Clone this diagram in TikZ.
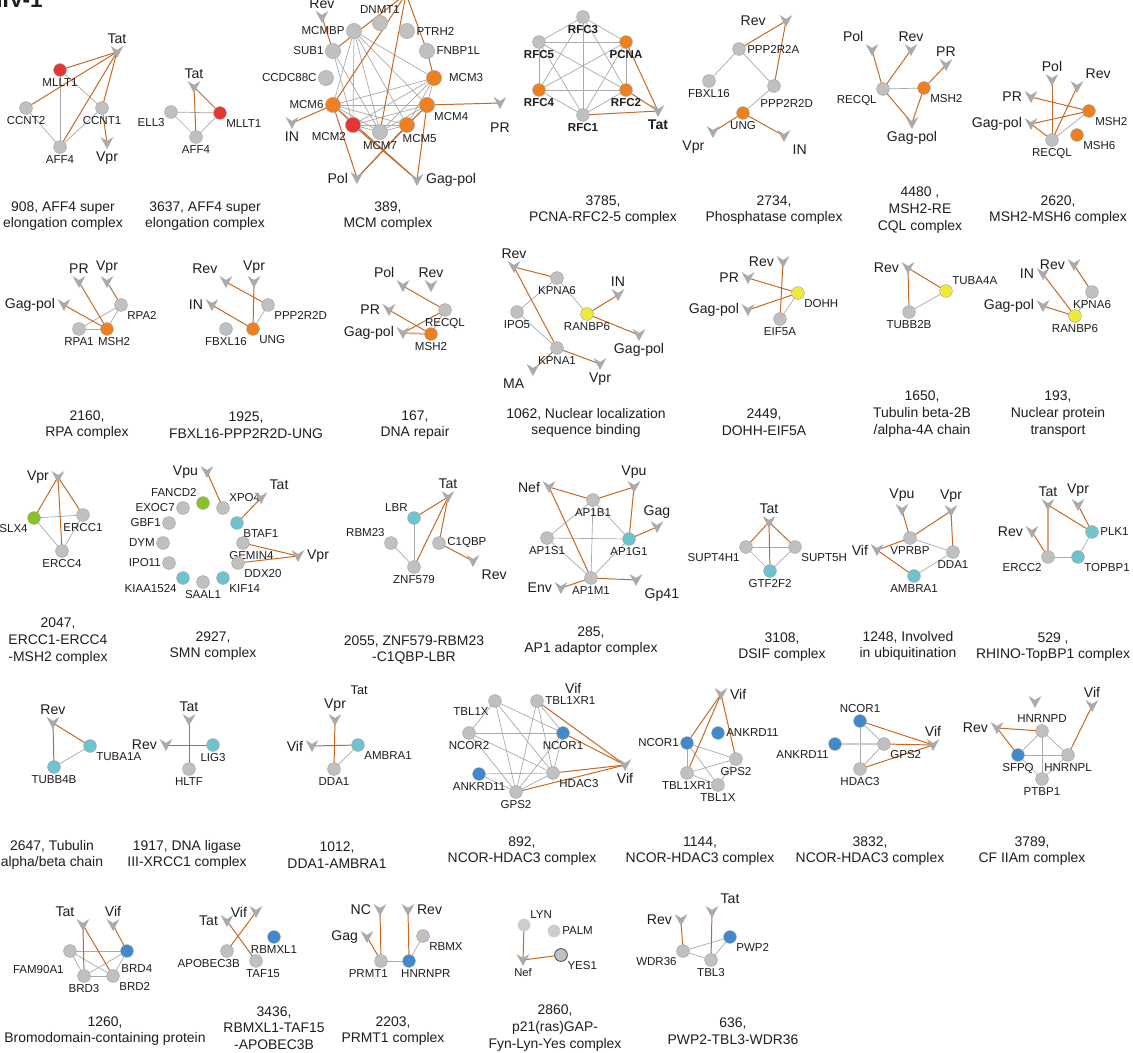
\documentclass[tikz,border=0pt]{standalone}
\usepackage{fontspec}
\setmainfont{Liberation Sans}
\usetikzlibrary{backgrounds}
\definecolor{protgray}{RGB}{192,192,192}
\definecolor{protline}{RGB}{165,165,165}
\definecolor{porange}{RGB}{238,128,32}
\definecolor{pred}{RGB}{228,54,50}
\definecolor{pyellow}{RGB}{238,234,58}
\definecolor{pgreen}{RGB}{140,192,40}
\definecolor{pcyan}{RGB}{110,196,206}
\definecolor{pblue}{RGB}{66,136,204}
\definecolor{virgray}{RGB}{170,170,170}
\definecolor{edgegray}{RGB}{170,170,170}
\definecolor{edgeorange}{RGB}{196,104,36}
\definecolor{txt}{RGB}{30,30,30}
\newcommand{\edg}[3][pp]{\draw[#1] (#2.center) -- (#3.center);}
\tikzset{
	prot/.style={circle,draw=protline,line width=0.3pt,fill=protgray,minimum size=0.32cm,inner sep=0pt},
	big/.style={minimum size=0.38cm},
	vir/.style={rectangle,minimum width=0.32cm,minimum height=0.3cm,inner sep=0pt,
		path picture={\fill[virgray] (path picture bounding box.north west) -- ([yshift=-2.8pt]path picture bounding box.north) -- (path picture bounding box.north east) -- (path picture bounding box.south) -- cycle;}},
	lab/.style={font=\fontsize{8.2}{9}\selectfont,text=txt,inner sep=1pt},
	blab/.style={font=\fontsize{8.2}{9}\selectfont\bfseries,text=txt,inner sep=1pt},
	vlab/.style={font=\fontsize{10}{11}\selectfont,text=txt,inner sep=1.5pt},
	bvlab/.style={font=\fontsize{10}{11}\selectfont\bfseries,text=txt,inner sep=1.5pt},
	captxt/.style={font=\fontsize{9.9}{11.8}\selectfont,text=txt,align=center,inner sep=0pt},
	pp/.style={draw=edgegray,line width=0.5pt},
	hv/.style={draw=edgeorange,line width=0.7pt}
}

\begin{document}
\begin{tikzpicture}[x=0.025cm,y=-0.025cm]
	\useasboundingbox (0,0) rectangle (1133,1053);
	\begin{scope}[on background layer]
		\fill[white] (0,0) rectangle (1133,1053);
	\end{scope}
	\node[font=\fontsize{16}{16}\selectfont\bfseries,anchor=base west,inner sep=0pt,text=txt] (hiv) at (-14,7) {HIV-1};

	\node[vir,label={[vlab]above:Tat}] (908-tat) at (117,52) {};
	\node[prot,fill=pred,label={[lab]below:MLLT1}] (908-mllt1) at (60,70) {};
	\node[prot,label={[lab]below:CCNT2}] (908-ccnt2) at (26,108) {};
	\node[prot,label={[lab]below:CCNT1}] (908-ccnt1) at (102,108) {};
	\node[prot,label={[lab]below:AFF4}] (908-aff4) at (60,147) {};
	\node[vir,label={[vlab]below:Vpr}] (908-vpr) at (107,143) {};
	\node[captxt] (908-cap) at (63,216) {908, AFF4 super\\elongation complex};
	\begin{scope}[on background layer]
		\edg{908-mllt1}{908-aff4} \edg{908-mllt1}{908-ccnt1} \edg{908-ccnt2}{908-aff4} \edg{908-ccnt1}{908-aff4}
		\edg[hv]{908-tat}{908-mllt1} \edg[hv]{908-tat}{908-ccnt2} \edg[hv]{908-tat}{908-aff4}
		\edg[hv]{908-tat}{908-ccnt1} \edg[hv]{908-ccnt1}{908-vpr}
	\end{scope}

	\node[vir,label={[vlab]above:Tat}] (3637-tat) at (194,87) {};
	\node[prot,label={[lab]below left:ELL3}] (3637-ell3) at (171,112) {};
	\node[prot,fill=pred,label={[lab]below right:MLLT1}] (3637-mllt1) at (220,113) {};
	\node[prot,label={[lab]below:AFF4}] (3637-aff4) at (196,137) {};
	\node[captxt] (3637-cap) at (205,216) {3637, AFF4 super\\elongation complex};
	\begin{scope}[on background layer]
		\edg{3637-ell3}{3637-mllt1} \edg{3637-ell3}{3637-aff4} \edg{3637-aff4}{3637-mllt1}
		\edg[hv]{3637-tat}{3637-aff4} \edg[hv]{3637-tat}{3637-mllt1}
	\end{scope}

	\coordinate (389-top) at (406,-6);
	\node[vir,label={[vlab]above:Rev}] (389-rev) at (322,17) {};
	\node[prot,big,label={[lab]above:DNMT1}] (389-dnmt1) at (380,23) {};
	\node[prot,big,label={[lab]left:MCMBP}] (389-mcmbp) at (354,31) {};
	\node[prot,big,label={[lab]right:PTRH2}] (389-ptrh2) at (407,31) {};
	\node[prot,big,label={[lab]left:SUB1}] (389-sub1) at (333,51) {};
	\node[prot,big,label={[lab]right:FNBP1L}] (389-fnbp1l) at (427,51) {};
	\node[prot,big,label={[lab]left:CCDC88C}] (389-ccdc88c) at (326,78) {};
	\node[prot,big,fill=porange,label={[lab,label distance=4pt]right:MCM3}] (389-mcm3) at (434,78) {};
	\node[prot,big,fill=porange,label={[lab]left:MCM6}] (389-mcm6) at (333,105) {};
	\node[prot,big,fill=porange,label={[lab]below right:MCM4}] (389-mcm4) at (427,105) {};
	\node[vir,label={[vlab]below:IN}] (389-in) at (292,123) {};
	\node[prot,big,fill=pred,label={[lab]below left:MCM2}] (389-mcm2) at (353,125) {};
	\node[prot,big,label={[lab]below:MCM7}] (389-mcm7) at (380,132) {};
	\node[prot,big,fill=porange,label={[lab,xshift=9pt]below:MCM5}] (389-mcm5) at (407,125) {};
	\node[vir,label={[vlab,label distance=8pt]below:PR}] (389-pr) at (500,103) {};
	\node[vir,label={[vlab]left:Pol}] (389-pol) at (357,178) {};
	\node[vir,label={[vlab]right:Gag-pol}] (389-gagpol) at (417,180) {};
	\node[captxt] (389-cap) at (388,216) {389,\\MCM complex};
	\begin{scope}[on background layer]
		\edg{389-mcmbp}{389-mcm3} \edg{389-mcmbp}{389-mcm4} \edg{389-mcmbp}{389-mcm5}
		\edg{389-mcmbp}{389-mcm7} \edg{389-mcmbp}{389-mcm2} \edg{389-mcmbp}{389-mcm6}
		\edg{389-sub1}{389-mcm2} \edg{389-sub1}{389-mcm7}
		\edg{389-mcm6}{389-mcm4} \edg{389-mcm6}{389-mcm3} \edg{389-mcm6}{389-mcm5}
		\edg{389-mcm6}{389-mcm7} \edg{389-mcm6}{389-mcm2}
		\edg{389-mcm3}{389-mcm2} \edg{389-mcm3}{389-mcm7} \edg{389-mcm3}{389-mcm5} \edg{389-mcm3}{389-mcm4}
		\edg{389-mcm4}{389-mcm2} \edg{389-mcm4}{389-mcm7} \edg{389-mcm4}{389-mcm5}
		\edg{389-mcm2}{389-mcm7} \edg{389-mcm2}{389-mcm5} \edg{389-mcm7}{389-mcm5}
		\edg[hv]{389-rev}{389-sub1} \edg[hv]{389-sub1}{389-top} \edg[hv]{389-mcm6}{389-top}
		\edg[hv]{389-mcm7}{389-top} \edg[hv]{389-fnbp1l}{389-top} \edg[hv]{389-fnbp1l}{389-mcm3}
		\edg[hv]{389-mcm6}{389-in} \edg[hv]{389-mcm4}{389-pr}
		\edg[hv]{389-mcm6}{389-pol} \edg[hv]{389-mcm5}{389-pol} \edg[hv]{389-mcm4}{389-pol}
		\edg[hv]{389-mcm6}{389-gagpol} \edg[hv]{389-mcm2}{389-gagpol} \edg[hv]{389-mcm4}{389-gagpol}
	\end{scope}

	\node[prot,label={[blab]below:RFC3}] (3785-rfc3) at (583,17) {};
	\node[prot,label={[blab]below:RFC5}] (3785-rfc5) at (539,42) {};
	\node[prot,fill=porange,label={[blab]below:PCNA}] (3785-pcna) at (626,42) {};
	\node[prot,fill=porange,label={[blab]below:RFC4}] (3785-rfc4) at (539,90) {};
	\node[prot,fill=porange,label={[blab]below:RFC2}] (3785-rfc2) at (626,90) {};
	\node[prot,label={[blab]below:RFC1}] (3785-rfc1) at (583,115) {};
	\node[vir,label={[bvlab]below:Tat}] (3785-tat) at (658,111) {};
	\node[captxt] (3785-cap) at (603,210) {3785,\\PCNA-RFC2-5 complex};
	\begin{scope}[on background layer]
		\edg{3785-rfc3}{3785-rfc5} \edg{3785-rfc3}{3785-pcna} \edg{3785-rfc3}{3785-rfc4} \edg{3785-rfc3}{3785-rfc2} \edg{3785-rfc3}{3785-rfc1}
		\edg{3785-rfc5}{3785-pcna} \edg{3785-rfc5}{3785-rfc4} \edg{3785-rfc5}{3785-rfc2} \edg{3785-rfc5}{3785-rfc1}
		\edg{3785-pcna}{3785-rfc4} \edg{3785-pcna}{3785-rfc2} \edg{3785-pcna}{3785-rfc1}
		\edg{3785-rfc4}{3785-rfc2} \edg{3785-rfc4}{3785-rfc1} \edg{3785-rfc2}{3785-rfc1}
		\edg[hv]{3785-pcna}{3785-tat} \edg[hv]{3785-rfc2}{3785-tat} \edg[hv]{3785-rfc1}{3785-tat}
	\end{scope}

	\node[vir,label={[vlab,label distance=8pt]left:Rev}] (2734-rev) at (786,21) {};
	\node[prot,label={[lab]right:PPP2R2A}] (2734-ppp2r2a) at (739,49) {};
	\node[prot,label={[lab]below:FBXL16}] (2734-fbxl16) at (709,81) {};
	\node[prot,label={[lab,xshift=9pt,yshift=-4pt]below:PPP2R2D}] (2734-ppp2r2d) at (774,86) {};
	\node[prot,fill=porange,label={[lab]below:UNG}] (2734-ung) at (743,113) {};
	\node[vir,label={[vlab]below left:Vpr}] (2734-vpr) at (713,132) {};
	\node[vir,label={[vlab]below right:IN}] (2734-in) at (784,136) {};
	\node[captxt] (2734-cap) at (774,210) {2734,\\Phosphatase complex};
	\begin{scope}[on background layer]
		\edg{2734-ppp2r2a}{2734-fbxl16} \edg{2734-ppp2r2a}{2734-ppp2r2d} \edg{2734-ppp2r2d}{2734-ung}
		\edg[hv]{2734-rev}{2734-ppp2r2a} \edg[hv]{2734-rev}{2734-ppp2r2d}
		\edg[hv]{2734-ung}{2734-vpr} \edg[hv]{2734-ung}{2734-in}
	\end{scope}

	\node[vir,label={[vlab]above left:Pol}] (4480-pol) at (872,50) {};
	\node[vir,label={[vlab]above:Rev}] (4480-rev) at (911,50) {};
	\node[vir,label={[vlab]above:PR}] (4480-pr) at (946,65) {};
	\node[prot,label={[lab]below left:RECQL}] (4480-recql) at (883,89) {};
	\node[prot,fill=porange,label={[lab]below right:MSH2}] (4480-msh2) at (924,88) {};
	\node[vir,label={[vlab]below:Gag-pol}] (4480-gagpol) at (912,123) {};
	\node[captxt] (4480-cap) at (920,210) {4480 ,\\MSH2-RE\\CQL complex};
	\begin{scope}[on background layer]
		\edg{4480-recql}{4480-msh2}
		\edg[hv]{4480-pol}{4480-recql} \edg[hv]{4480-rev}{4480-recql} \edg[hv]{4480-pr}{4480-msh2}
		\edg[hv]{4480-recql}{4480-gagpol} \edg[hv]{4480-msh2}{4480-gagpol}
	\end{scope}

	\node[vir,label={[vlab]above:Pol}] (2620-pol) at (1052,80) {};
	\node[vir,label={[vlab]above right:Rev}] (2620-rev) at (1077,87) {};
	\node[vir,label={[vlab]left:PR}] (2620-pr) at (1031,97) {};
	\node[prot,fill=porange,label={[lab]below right:MSH2}] (2620-msh2) at (1089,111) {};
	\node[vir,label={[vlab]left:Gag-pol}] (2620-gagpol) at (1031,124) {};
	\node[prot,fill=porange,label={[lab]below right:MSH6}] (2620-msh6) at (1077,135) {};
	\node[prot,label={[lab]below:RECQL}] (2620-recql) at (1052,140) {};
	\node[captxt] (2620-cap) at (1058,210) {2620,\\MSH2-MSH6 complex};
	\begin{scope}[on background layer]
		\edg{2620-recql}{2620-msh2}
		\edg[hv]{2620-pol}{2620-recql} \edg[hv]{2620-rev}{2620-recql} \edg[hv]{2620-pr}{2620-msh2}
		\edg[hv]{2620-gagpol}{2620-msh2} \edg[hv]{2620-gagpol}{2620-recql}
	\end{scope}

	\node[vir,label={[vlab]above:PR}] (2160-pr) at (79,282) {};
	\node[vir,label={[vlab]above:Vpr}] (2160-vpr) at (107,282) {};
	\node[vir,label={[vlab]left:Gag-pol}] (2160-gagpol) at (64,305) {};
	\node[prot,label={[lab]below right:RPA2}] (2160-rpa2) at (121,305) {};
	\node[prot,label={[lab]below:RPA1}] (2160-rpa1) at (79,329) {};
	\node[prot,fill=porange,label={[lab,xshift=5pt]below:MSH2}] (2160-msh2) at (107,329) {};
	\node[captxt] (2160-cap) at (87,425) {2160,\\RPA complex};
	\begin{scope}[on background layer]
		\edg{2160-rpa2}{2160-rpa1} \edg{2160-rpa2}{2160-msh2} \edg{2160-rpa1}{2160-msh2}
		\edg[hv]{2160-pr}{2160-msh2} \edg[hv]{2160-vpr}{2160-rpa2} \edg[hv]{2160-gagpol}{2160-msh2}
	\end{scope}

	\node[vir,label={[vlab]above left:Rev}] (1925-rev) at (226,282) {};
	\node[vir,label={[vlab]above:Vpr}] (1925-vpr) at (254,282) {};
	\node[vir,label={[vlab]left:IN}] (1925-in) at (212,305) {};
	\node[prot,label={[lab]below right:PPP2R2D}] (1925-ppp2r2d) at (268,305) {};
	\node[prot,label={[lab]below:FBXL16}] (1925-fbxl16) at (226,329) {};
	\node[prot,fill=porange,label={[lab]below right:UNG}] (1925-ung) at (253,329) {};
	\node[captxt] (1925-cap) at (246,425) {1925,\\FBXL16-PPP2R2D-UNG};
	\begin{scope}[on background layer]
		\edg{1925-ppp2r2d}{1925-ung}
		\edg[hv]{1925-rev}{1925-ppp2r2d} \edg[hv]{1925-vpr}{1925-ung} \edg[hv]{1925-in}{1925-ung}
	\end{scope}

	\node[vir,label={[vlab]above left:Pol}] (167-pol) at (403,286) {};
	\node[vir,label={[vlab]above:Rev}] (167-rev) at (431,286) {};
	\node[vir,label={[vlab]left:PR}] (167-pr) at (389,310) {};
	\node[prot,label={[lab]below:RECQL}] (167-recql) at (445,310) {};
	\node[vir,label={[vlab]left:Gag-pol}] (167-gagpol) at (403,333) {};
	\node[prot,fill=porange,label={[lab]below:MSH2}] (167-msh2) at (431,334) {};
	\node[captxt] (167-cap) at (415,425) {167,\\DNA repair};
	\begin{scope}[on background layer]
		\edg{167-recql}{167-msh2}
		\edg[hv]{167-pol}{167-recql} \edg[hv]{167-pr}{167-msh2} \edg[hv]{167-gagpol}{167-recql}
		\draw[edgeorange!55,line width=1.3pt] (167-gagpol.center) -- (167-msh2.center);
	\end{scope}

	\node[vir,label={[vlab]above:Rev}] (1062-rev) at (514,267) {};
	\node[prot,label={[lab]below:KPNA6}] (1062-kpna6) at (557,278) {};
	\node[vir,label={[vlab]above:IN}] (1062-in) at (618,295) {};
	\node[prot,label={[lab]below:IPO5}] (1062-ipo5) at (517,312) {};
	\node[prot,fill=pyellow,label={[lab]below:RANBP6}] (1062-ranbp6) at (587,314) {};
	\node[prot,label={[lab]below:KPNA1}] (1062-kpna1) at (557,348) {};
	\node[vir,label={[vlab]below:Gag-pol}] (1062-gagpol) at (639,335) {};
	\node[vir,label={[vlab]below left:MA}] (1062-ma) at (533,370) {};
	\node[vir,label={[vlab]below:Vpr}] (1062-vpr) at (600,364) {};
	\node[captxt] (1062-cap) at (586,423) {1062, Nuclear localization\\sequence binding};
	\begin{scope}[on background layer]
		\edg{1062-kpna6}{1062-ipo5} \edg{1062-kpna6}{1062-ranbp6} \edg{1062-ipo5}{1062-kpna1}
		\edg[hv]{1062-rev}{1062-kpna6} \edg[hv]{1062-rev}{1062-kpna1}
		\edg[hv]{1062-ranbp6}{1062-in} \edg[hv]{1062-ranbp6}{1062-gagpol}
		\edg[hv]{1062-kpna1}{1062-ma} \edg[hv]{1062-kpna1}{1062-vpr}
	\end{scope}

	\node[vir,label={[vlab]left:Rev}] (2449-rev) at (783,262) {};
	\node[vir,label={[vlab]left:PR}] (2449-pr) at (748,278) {};
	\node[prot,fill=pyellow,label={[lab]below right:DOHH}] (2449-dohh) at (798,293) {};
	\node[vir,label={[vlab]left:Gag-pol}] (2449-gagpol) at (748,310) {};
	\node[prot,label={[lab]below:EIF5A}] (2449-eif5a) at (780,319) {};
	\node[captxt] (2449-cap) at (764,422) {2449,\\DOHH-EIF5A};
	\begin{scope}[on background layer]
		\edg{2449-dohh}{2449-eif5a}
		\edg[hv]{2449-pr}{2449-dohh} \edg[hv]{2449-gagpol}{2449-dohh} \edg[hv]{2449-rev}{2449-eif5a}
	\end{scope}

	\node[vir,label={[vlab]left:Rev}] (1650-rev) at (908,268) {};
	\node[prot,fill=pyellow,label={[lab]above right:TUBA4A}] (1650-tuba4a) at (946,291) {};
	\node[prot,label={[lab]below:TUBB2B}] (1650-tubb2b) at (909,312) {};
	\node[captxt] (1650-cap) at (922,414) {1650,\\Tubulin beta-2B\\/alpha-4A chain};
	\begin{scope}[on background layer]
		\edg{1650-tuba4a}{1650-tubb2b}
		\edg[hv]{1650-rev}{1650-tuba4a} \edg[hv]{1650-rev}{1650-tubb2b}
	\end{scope}

	\node[vir,label={[vlab]left:Rev}] (193-rev) at (1074,265) {};
	\node[vir,label={[vlab]left:IN}] (193-in) at (1043,274) {};
	\node[prot,label={[lab]below:KPNA6}] (193-kpna6) at (1092,292) {};
	\node[vir,label={[vlab]left:Gag-pol}] (193-gagpol) at (1043,306) {};
	\node[prot,fill=pyellow,label={[lab]below:RANBP6}] (193-ranbp6) at (1075,316) {};
	\node[captxt] (193-cap) at (1058,414) {193,\\Nuclear protein\\transport};
	\begin{scope}[on background layer]
		\edg{193-kpna6}{193-ranbp6}
		\edg[hv]{193-rev}{193-kpna6} \edg[hv]{193-in}{193-ranbp6} \edg[hv]{193-gagpol}{193-ranbp6}
	\end{scope}

	\node[vir,label={[vlab]left:Vpr}] (2047-vpr) at (58,477) {};
	\node[prot,fill=pgreen,label={[lab]below left:SLX4}] (2047-slx4) at (34,518) {};
	\node[prot,label={[lab]below:ERCC1}] (2047-ercc1) at (83,515) {};
	\node[prot,label={[lab]below:ERCC4}] (2047-ercc4) at (62,551) {};
	\node[captxt] (2047-cap) at (58,641) {2047,\\ERCC1-ERCC4\\-MSH2 complex};
	\begin{scope}[on background layer]
		\edg{2047-slx4}{2047-ercc1} \edg{2047-slx4}{2047-ercc4} \edg{2047-ercc1}{2047-ercc4}
		\edg[hv]{2047-vpr}{2047-slx4} \edg[hv]{2047-vpr}{2047-ercc1} \edg[hv]{2047-vpr}{2047-ercc4}
	\end{scope}

	\node[vir,label={[vlab]left:Vpu}] (2927-vpu) at (207,472) {};
	\node[prot,fill=pgreen,label={[lab]above left:FANCD2}] (2927-fancd2) at (203,503) {};
	\node[prot,label={[lab]above right:XPO4}] (2927-xpo4) at (223,508) {};
	\node[vir,label={[vlab]above right:Tat}] (2927-tat) at (261,498) {};
	\node[prot,label={[lab]left:EXOC7}] (2927-exoc7) at (183,508) {};
	\node[prot,fill=pcyan,label={[lab]below right:BTAF1}] (2927-btaf1) at (237,523) {};
	\node[prot,label={[lab]left:GBF1}] (2927-gbf1) at (169,523) {};
	\node[prot,label={[lab]left:DYM}] (2927-dym) at (163,543) {};
	\node[prot,label={[lab,xshift=6pt]below:GEMIN4}] (2927-gemin4) at (243,543) {};
	\node[vir,label={[vlab]right:Vpr}] (2927-vpr) at (298,556) {};
	\node[prot,label={[lab]left:IPO11}] (2927-ipo11) at (169,563) {};
	\node[prot,label={[lab]below right:DDX20}] (2927-ddx20) at (238,563) {};
	\node[prot,fill=pcyan,label={[lab]below left:KIAA1524}] (2927-kiaa1524) at (183,578) {};
	\node[prot,label={[lab]below:SAAL1}] (2927-saal1) at (203,582) {};
	\node[prot,fill=pcyan,label={[lab]below right:KIF14}] (2927-kif14) at (223,578) {};
	\node[captxt] (2927-cap) at (213,646) {2927,\\SMN complex};
	\begin{scope}[on background layer]
		\edg[hv]{2927-vpu}{2927-xpo4} \edg[hv]{2927-tat}{2927-btaf1}
		\edg[hv]{2927-vpr}{2927-gemin4} \edg[hv]{2927-vpr}{2927-ddx20}
	\end{scope}

	\node[vir,label={[vlab]above:Tat}] (2055-tat) at (448,497) {};
	\node[prot,fill=pcyan,label={[lab]above left:LBR}] (2055-lbr) at (414,518) {};
	\node[prot,label={[lab]above left:RBM23}] (2055-rbm23) at (391,543) {};
	\node[prot,label={[lab]right:C1QBP}] (2055-c1qbp) at (439,543) {};
	\node[prot,label={[lab]below:ZNF579}] (2055-znf579) at (414,567) {};
	\node[vir,label={[vlab]below right:Rev}] (2055-rev) at (473,561) {};
	\node[captxt] (2055-cap) at (414,650) {2055, ZNF579-RBM23\\-C1QBP-LBR};
	\begin{scope}[on background layer]
		\edg{2055-lbr}{2055-znf579} \edg{2055-rbm23}{2055-znf579}
		\edg[hv]{2055-tat}{2055-lbr} \edg[hv]{2055-tat}{2055-znf579} \edg[hv]{2055-tat}{2055-c1qbp}
		\edg[hv]{2055-c1qbp}{2055-rev}
	\end{scope}

	\node[vir,label={[vlab]left:Nef}] (285-nef) at (549,487) {};
	\node[vir,label={[vlab]above:Vpu}] (285-vpu) at (634,487) {};
	\node[prot,label={[lab]below:AP1B1}] (285-ap1b1) at (593,500) {};
	\node[vir,label={[vlab]above:Gag}] (285-gag) at (657,527) {};
	\node[prot,label={[lab]below:AP1S1}] (285-ap1s1) at (547,538) {};
	\node[prot,fill=pcyan,label={[lab]below:AP1G1}] (285-ap1g1) at (629,539) {};
	\node[prot,label={[lab]below:AP1M1}] (285-ap1m1) at (591,578) {};
	\node[vir,label={[vlab]left:Env}] (285-env) at (561,588) {};
	\node[vir,label={[vlab]below right:Gp41}] (285-gp41) at (636,580) {};
	\node[captxt] (285-cap) at (591,641) {285,\\AP1 adaptor complex};
	\begin{scope}[on background layer]
		\edg{285-ap1b1}{285-ap1s1} \edg{285-ap1b1}{285-ap1g1} \edg{285-ap1b1}{285-ap1m1}
		\edg{285-ap1s1}{285-ap1g1} \edg{285-ap1s1}{285-ap1m1} \edg{285-ap1g1}{285-ap1m1}
		\edg[hv]{285-nef}{285-ap1b1} \edg[hv]{285-nef}{285-ap1m1} \edg[hv]{285-ap1b1}{285-vpu}
		\edg[hv]{285-vpu}{285-ap1g1} \edg[hv]{285-ap1g1}{285-gag}
		\edg[hv]{285-ap1m1}{285-env} \edg[hv]{285-ap1m1}{285-gp41}
	\end{scope}

	\node[vir,label={[vlab]above:Tat}] (3108-tat) at (769,522) {};
	\node[prot,label={[lab]below left:SUPT4H1}] (3108-supt4h1) at (746,547) {};
	\node[prot,label={[lab]below right:SUPT5H}] (3108-supt5h) at (795,547) {};
	\node[prot,fill=pcyan,label={[lab]below:GTF2F2}] (3108-gtf2f2) at (770,571) {};
	\node[captxt] (3108-cap) at (782,647) {3108,\\DSIF complex};
	\begin{scope}[on background layer]
		\edg{3108-supt4h1}{3108-supt5h} \edg{3108-supt4h1}{3108-gtf2f2} \edg{3108-supt5h}{3108-gtf2f2}
		\edg[hv]{3108-tat}{3108-supt4h1} \edg[hv]{3108-tat}{3108-supt5h} \edg[hv]{3108-tat}{3108-gtf2f2}
	\end{scope}

	\node[vir,label={[vlab]above:Vpu}] (1248-vpu) at (902,510) {};
	\node[vir,label={[vlab]above:Vpr}] (1248-vpr) at (951,511) {};
	\node[prot,label={[lab]below:VPRBP}] (1248-vprbp) at (910,538) {};
	\node[vir,label={[vlab]left:Vif}] (1248-vif) at (877,550) {};
	\node[prot,label={[lab]below:DDA1}] (1248-dda1) at (953,552) {};
	\node[prot,fill=pcyan,label={[lab]below:AMBRA1}] (1248-ambra1) at (914,576) {};
	\node[captxt] (1248-cap) at (908,646) {1248, Involved\\in ubiquitination};
	\begin{scope}[on background layer]
		\edg{1248-vprbp}{1248-dda1} \edg{1248-dda1}{1248-ambra1}
		\edg[hv]{1248-vpu}{1248-vprbp} \edg[hv]{1248-vpr}{1248-vprbp} \edg[hv]{1248-vpr}{1248-dda1}
		\edg[hv]{1248-vif}{1248-vprbp} \edg[hv]{1248-vif}{1248-ambra1}
	\end{scope}

	\node[vir,label={[vlab]above:Tat}] (529-tat) at (1048,505) {};
	\node[vir,label={[vlab]above:Vpr}] (529-vpr) at (1078,505) {};
	\node[vir,label={[vlab]left:Rev}] (529-rev) at (1032,532) {};
	\node[prot,fill=pcyan,label={[lab]right:PLK1}] (529-plk1) at (1092,532) {};
	\node[prot,label={[lab]below left:ERCC2}] (529-ercc2) at (1048,557) {};
	\node[prot,fill=pcyan,label={[lab]below right:TOPBP1}] (529-topbp1) at (1078,557) {};
	\node[captxt] (529-cap) at (1053,647) {529 ,\\RHINO-TopBP1 complex};
	\begin{scope}[on background layer]
		\edg{529-ercc2}{529-topbp1} \edg{529-topbp1}{529-plk1}
		\edg[hv]{529-tat}{529-plk1} \edg[hv]{529-vpr}{529-plk1} \edg[hv]{529-rev}{529-ercc2}
		\draw[edgeorange!60,line width=1pt] (529-tat.center) -- (529-ercc2.center);
	\end{scope}

	\node[vir,label={[vlab]above:Rev}] (2647-rev) at (53,723) {};
	\node[prot,fill=pcyan,label={[lab]below right:TUBA1A}] (2647-tuba1a) at (90,746) {};
	\node[prot,fill=pcyan,label={[lab]below:TUBB4B}] (2647-tubb4b) at (54,767) {};
	\node[captxt] (2647-cap) at (52,855) {2647, Tubulin\\alpha/beta chain};
	\begin{scope}[on background layer]
		\edg{2647-tuba1a}{2647-tubb4b}
		\edg[hv]{2647-rev}{2647-tuba1a} \edg[hv]{2647-rev}{2647-tubb4b}
	\end{scope}

	\node[vir,label={[vlab]above:Tat}] (1917-tat) at (189,720) {};
	\node[vir,label={[vlab]left:Rev}] (1917-rev) at (166,745) {};
	\node[prot,fill=pcyan,label={[lab]below:LIG3}] (1917-lig3) at (213,745) {};
	\node[prot,label={[lab]below:HLTF}] (1917-hltf) at (189,769) {};
	\node[captxt] (1917-cap) at (187,855) {1917, DNA ligase\\III-XRCC1 complex};
	\begin{scope}[on background layer]
		\edg[hv]{1917-tat}{1917-hltf} \edg[hv]{1917-rev}{1917-lig3}
	\end{scope}

	\node[vir,label={[vlab]above:Vpr},label={[vlab,font=\fontsize{9}{10}\selectfont,xshift=5pt,yshift=12pt]above right:Tat}] (1012-vpr) at (335,720) {};
	\node[vir,label={[vlab]left:Vif}] (1012-vif) at (312,746) {};
	\node[prot,fill=pcyan,label={[lab]below right:AMBRA1}] (1012-ambra1) at (358,745) {};
	\node[prot,label={[lab]below:DDA1}] (1012-dda1) at (334,769) {};
	\node[captxt] (1012-cap) at (337,855) {1012,\\DDA1-AMBRA1};
	\begin{scope}[on background layer]
		\edg{1012-dda1}{1012-ambra1}
		\edg[hv]{1012-vpr}{1012-dda1} \edg[hv]{1012-vif}{1012-ambra1}
	\end{scope}

	\node[prot,label={[lab]below left:TBL1X}] (892-tbl1x) at (495,701) {};
	\node[prot,label={[lab]right:TBL1XR1},label={[vlab,xshift=15pt]above right:Vif}] (892-tbl1xr1) at (537,701) {};
	\node[prot,label={[lab]below:NCOR2}] (892-ncor2) at (469,733) {};
	\node[prot,fill=pblue,label={[lab]below:NCOR1}] (892-ncor1) at (563,733) {};
	\node[prot,fill=pblue,label={[lab]below:ANKRD11}] (892-ankrd11) at (479,774) {};
	\node[prot,label={[lab]below right:HDAC3}] (892-hdac3) at (553,773) {};
	\node[prot,label={[lab]below:GPS2}] (892-gps2) at (516,792) {};
	\node[vir,label={[vlab]below:Vif}] (892-vif) at (625,765) {};
	\node[captxt] (892-cap) at (522,851) {892,\\NCOR-HDAC3 complex};
	\begin{scope}[on background layer]
		\edg{892-tbl1x}{892-ncor2} \edg{892-tbl1x}{892-ncor1} \edg{892-tbl1x}{892-hdac3} \edg{892-tbl1x}{892-gps2}
		\edg{892-tbl1xr1}{892-ncor1} \edg{892-tbl1xr1}{892-hdac3} \edg{892-tbl1xr1}{892-gps2}
		\edg{892-ncor2}{892-ncor1} \edg{892-ncor2}{892-hdac3} \edg{892-ncor2}{892-gps2}
		\edg{892-ncor1}{892-hdac3} \edg{892-ncor1}{892-gps2}
		\edg{892-ankrd11}{892-hdac3} \edg{892-ankrd11}{892-gps2} \edg{892-hdac3}{892-gps2}
		\edg[hv]{892-tbl1xr1}{892-vif} \edg[hv]{892-ncor1}{892-vif} \edg[hv]{892-hdac3}{892-vif} \edg[hv]{892-gps2}{892-vif}
	\end{scope}

	\node[vir,label={[vlab]right:Vif}] (1144-vif) at (721,694) {};
	\node[prot,fill=pblue,label={[lab]left:NCOR1}] (1144-ncor1) at (687,743) {};
	\node[prot,fill=pblue,label={[lab]right:ANKRD11}] (1144-ankrd11) at (718,733) {};
	\node[prot,label={[lab]below:GPS2}] (1144-gps2) at (736,759) {};
	\node[prot,label={[lab]below:TBL1XR1}] (1144-tbl1xr1) at (687,773) {};
	\node[prot,label={[lab]below:TBL1X}] (1144-tbl1x) at (718,785) {};
	\node[captxt] (1144-cap) at (700,851) {1144,\\NCOR-HDAC3 complex};
	\begin{scope}[on background layer]
		\edg{1144-ncor1}{1144-gps2} \edg{1144-ncor1}{1144-tbl1xr1} \edg{1144-ncor1}{1144-tbl1x}
		\edg{1144-tbl1xr1}{1144-gps2} \edg{1144-tbl1xr1}{1144-tbl1x} \edg{1144-gps2}{1144-tbl1x}
		\edg[hv]{1144-vif}{1144-ncor1} \edg[hv]{1144-vif}{1144-tbl1xr1} \edg[hv]{1144-vif}{1144-gps2}
	\end{scope}

	\node[prot,fill=pblue,label={[lab]above:NCOR1}] (3832-ncor1) at (860,721) {};
	\node[vir,label={[vlab]above:Vif}] (3832-vif) at (933,745) {};
	\node[prot,fill=pblue,label={[lab]below left:ANKRD11}] (3832-ankrd11) at (835,744) {};
	\node[prot,label={[lab]below right:GPS2}] (3832-gps2) at (884,744) {};
	\node[prot,label={[lab]below:HDAC3}] (3832-hdac3) at (860,769) {};
	\node[captxt] (3832-cap) at (870,851) {3832,\\NCOR-HDAC3 complex};
	\begin{scope}[on background layer]
		\edg{3832-ncor1}{3832-gps2} \edg{3832-ncor1}{3832-hdac3} \edg{3832-gps2}{3832-hdac3}
		\draw[edgegray!60,line width=1.3pt] (3832-ankrd11.center) -- (3832-gps2.center);
		\edg[hv]{3832-ncor1}{3832-vif} \edg[hv]{3832-gps2}{3832-vif} \edg[hv]{3832-hdac3}{3832-vif}
	\end{scope}

	\node[vir] (3789-top) at (1035,702) {};
	\node[vir,label={[vlab]above:Vif}] (3789-vif) at (1092,706) {};
	\node[prot,label={[lab]above:HNRNPD}] (3789-hnrnpd) at (1042,731) {};
	\node[vir,label={[vlab]left:Rev}] (3789-rev) at (997,728) {};
	\node[prot,fill=pblue,label={[lab]below:SFPQ}] (3789-sfpq) at (1018,755) {};
	\node[prot,label={[lab]below:HNRNPL}] (3789-hnrnpl) at (1068,755) {};
	\node[prot,label={[lab]below:PTBP1}] (3789-ptbp1) at (1042,779) {};
	\node[captxt] (3789-cap) at (1032,851) {3789,\\CF IIAm complex};
	\begin{scope}[on background layer]
		\edg{3789-hnrnpd}{3789-sfpq} \edg{3789-hnrnpd}{3789-hnrnpl} \edg{3789-hnrnpd}{3789-ptbp1}
		\edg{3789-sfpq}{3789-hnrnpl} \edg{3789-sfpq}{3789-ptbp1} \edg{3789-hnrnpl}{3789-ptbp1}
		\edg[hv]{3789-rev}{3789-hnrnpd} \edg[hv]{3789-rev}{3789-sfpq} \edg[hv]{3789-vif}{3789-hnrnpl}
	\end{scope}

	\node[vir,label={[vlab]above left:Tat}] (1260-tat) at (83,925) {};
	\node[vir,label={[vlab]above:Vif}] (1260-vif) at (113,925) {};
	\node[prot,label={[lab,yshift=-6pt]below left:FAM90A1}] (1260-fam90a1) at (70,951) {};
	\node[prot,fill=pblue,label={[lab,xshift=7pt,yshift=-4pt]below:BRD4}] (1260-brd4) at (127,951) {};
	\node[prot,label={[lab]below:BRD3}] (1260-brd3) at (84,976) {};
	\node[prot,label={[lab]below right:BRD2}] (1260-brd2) at (113,976) {};
	\node[captxt] (1260-cap) at (105,1031) {1260,\\Bromodomain-containing protein};
	\begin{scope}[on background layer]
		\edg{1260-fam90a1}{1260-brd4} \edg{1260-fam90a1}{1260-brd3} \edg{1260-fam90a1}{1260-brd2}
		\edg{1260-brd4}{1260-brd3} \edg{1260-brd4}{1260-brd2} \edg{1260-brd3}{1260-brd2}
		\edg[hv]{1260-tat}{1260-brd3} \edg[hv]{1260-tat}{1260-brd2} \edg[hv]{1260-vif}{1260-brd4}
	\end{scope}

	\node[vir,label={[vlab]left:Tat}] (3436-tat) at (227,921) {};
	\node[vir,label={[vlab]left:Vif}] (3436-vif) at (256,912) {};
	\node[prot,fill=pblue,label={[lab]below:RBMXL1}] (3436-rbmxl1) at (274,937) {};
	\node[prot,label={[lab,xshift=-13pt]below:APOBEC3B}] (3436-apobec3b) at (227,951) {};
	\node[prot,label={[lab,xshift=5pt]below:TAF15}] (3436-taf15) at (256,961) {};
	\node[captxt] (3436-cap) at (274,1028) {3436,\\RBMXL1-TAF15\\-APOBEC3B};
	\begin{scope}[on background layer]
		\edg[hv]{3436-tat}{3436-taf15} \edg[hv]{3436-vif}{3436-apobec3b}
	\end{scope}

	\node[vir,label={[vlab]left:NC}] (2203-nc) at (380,910) {};
	\node[vir,label={[vlab]right:Rev}] (2203-rev) at (408,910) {};
	\node[vir,label={[vlab]left:Gag}] (2203-gag) at (367,937) {};
	\node[prot,label={[lab]below right:RBMX}] (2203-rbmx) at (423,936) {};
	\node[prot,label={[lab,xshift=-9pt]below:PRMT1}] (2203-prmt1) at (381,961) {};
	\node[prot,fill=pblue,label={[lab,xshift=12pt]below:HNRNPR}] (2203-hnrnpr) at (409,961) {};
	\node[captxt] (2203-cap) at (393,1031) {2203,\\PRMT1 complex};
	\begin{scope}[on background layer]
		\edg{2203-prmt1}{2203-hnrnpr} \edg{2203-rbmx}{2203-hnrnpr}
		\edg[hv]{2203-nc}{2203-prmt1} \edg[hv]{2203-gag}{2203-prmt1} \edg[hv]{2203-rev}{2203-hnrnpr}
	\end{scope}

	\node[prot,draw=none,fill=protgray!80,label={[lab]above right:LYN}] (2860-lyn) at (524,925) {};
	\node[prot,draw=none,fill=protgray!80,label={[lab]right:PALM}] (2860-palm) at (554,931) {};
	\node[vir,label={[vlab,font=\fontsize{8}{9}\selectfont]below:Nef}] (2860-nef) at (523,960) {};
	\node[prot,draw=black!70,line width=0.6pt,label={[lab]below right:YES1}] (2860-yes1) at (561,955) {};
	\node[captxt] (2860-cap) at (555,1028) {2860,\\p21(ras)GAP-\\Fyn-Lyn-Yes complex};
	\begin{scope}[on background layer]
		\edg[hv]{2860-lyn}{2860-nef} \edg[hv]{2860-nef}{2860-yes1}
	\end{scope}

	\node[vir,label={[vlab]left:Rev}] (636-rev) at (681,920) {};
	\node[vir,label={[vlab]above right:Tat}] (636-tat) at (712,912) {};
	\node[prot,fill=pblue,label={[lab]below right:PWP2}] (636-pwp2) at (730,937) {};
	\node[prot,label={[lab]below left:WDR36}] (636-wdr36) at (683,951) {};
	\node[prot,label={[lab]below:TBL3}] (636-tbl3) at (711,960) {};
	\node[captxt] (636-cap) at (733,1031) {636,\\PWP2-TBL3-WDR36};
	\begin{scope}[on background layer]
		\edg{636-wdr36}{636-pwp2} \edg{636-wdr36}{636-tbl3} \edg{636-tbl3}{636-pwp2}
		\edg[hv]{636-rev}{636-wdr36} \edg[hv]{636-tat}{636-tbl3}
	\end{scope}
\end{tikzpicture}
\end{document}
